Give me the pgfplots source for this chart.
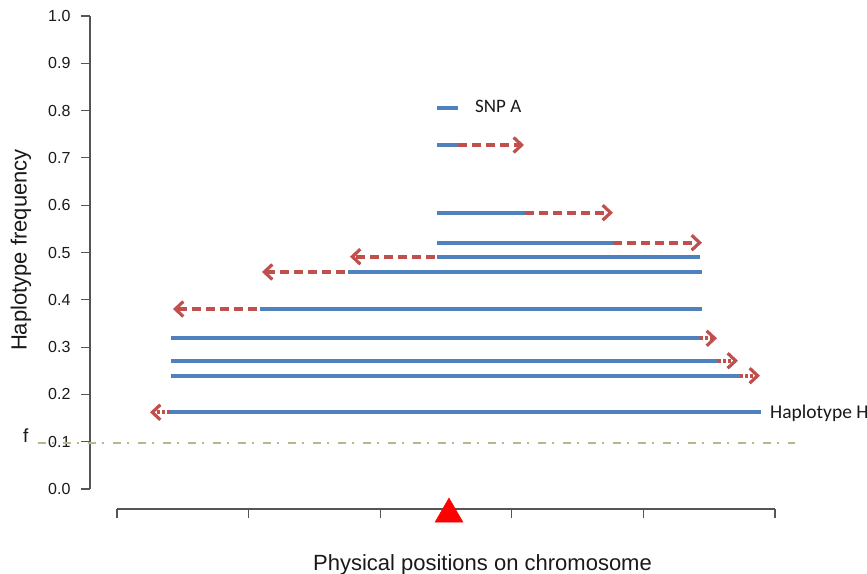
\documentclass[border=0pt]{standalone}
\usepackage{fontspec}
\setmainfont{Liberation Sans}
\newfontfamily\calibri{Carlito}
\usepackage{pgfplots}
\pgfplotsset{compat=1.18}
\usetikzlibrary{arrows.meta}
\definecolor{hblue}{RGB}{79,129,189}
\definecolor{hred}{RGB}{192,80,77}
\definecolor{fline}{RGB}{188,182,138}
\definecolor{axgray}{RGB}{85,85,85}
\definecolor{txt}{RGB}{25,25,25}
\begin{document}
\begin{tikzpicture}
\useasboundingbox (-90pt,-84pt) rectangle (777pt,489pt);
% x axis (positions on chromosome)
\begin{axis}[
  at={(27pt,-20pt)}, anchor=south west,
  scale only axis, width=658pt, height=2pt,
  xmin=0, xmax=5, ymin=0, ymax=1,
  axis x line*=bottom, axis y line=none,
  x axis line style={axgray, line width=1.2pt},
  xtick={0,1,2,3,4,5}, xticklabels={},
  tick align=outside, major tick length=9pt,
  tick style={axgray, line width=1.2pt},
]
\end{axis}
\begin{axis}[
  at={(0pt,0pt)}, anchor=south west,
  scale only axis, width=684.98pt, height=473pt,
  xmin=-0.205, xmax=5, ymin=0, ymax=1,
  clip=false,
  axis x line=none, axis y line*=left,
  y axis line style={axgray, line width=1.2pt},
  ytick={0,0.1,0.2,0.3,0.4,0.5,0.6,0.7,0.8,0.9,1.0},
  ticklabel style={font=\fontsize{16pt}{19pt}\selectfont, text=txt},
  yticklabel style={xshift=-7pt, /pgf/number format/.cd, fixed, fixed zerofill, precision=1, assume math mode=true},
  tick align=outside, major tick length=9pt,
  tick style={axgray, line width=1.2pt},
]
% threshold f
\addplot[fline, line width=2.8pt, dash pattern=on 8pt off 6pt on 2.5pt off 8.5pt] coordinates {(-0.6003,0.0973) (5.152,0.0973)};
% SNP A legend
\addplot[hblue, line width=4pt] coordinates {(2.4316,0.8055) (2.5912,0.8055)};
% haplotypes: blue cores
\addplot[hblue, line width=4pt] coordinates {(2.4316,0.7273) (2.5912,0.7273)};
\addplot[hblue, line width=4pt] coordinates {(2.4316,0.5841) (3.1003,0.5841)};
\addplot[hblue, line width=4pt] coordinates {(2.4316,0.5207) (3.7690,0.5207)};
\addplot[hblue, line width=4pt] coordinates {(2.4316,0.4911) (4.4301,0.4911)};
\addplot[hblue, line width=4pt] coordinates {(1.7553,0.4588) (4.4453,0.4588)};
\addplot[hblue, line width=4pt] coordinates {(1.0866,0.3805) (4.4453,0.3805)};
\addplot[hblue, line width=4pt] coordinates {(0.4103,0.3186) (4.4301,0.3186)};
\addplot[hblue, line width=4pt] coordinates {(0.4103,0.2712) (4.5669,0.2712)};
\addplot[hblue, line width=4pt] coordinates {(0.4103,0.2395) (4.7340,0.2395)};
\addplot[hblue, line width=4pt] coordinates {(0.4027,0.1622) (4.8936,0.1622)};
% red dashed extensions
\tikzset{ext/.style={hred, line width=3.8pt, dash pattern=on 9pt off 5pt, -{Straight Barb[length=8pt,width=15pt,line width=3.2pt]}}}
\addplot[ext] coordinates {(2.5912,0.7273) (3.0927,0.7273)};
\addplot[ext] coordinates {(3.1003,0.5841) (3.7690,0.5841)};
\addplot[ext] coordinates {(3.7690,0.5207) (4.4453,0.5207)};
\addplot[ext] coordinates {(2.4164,0.4911) (1.7705,0.4911)};
\addplot[ext] coordinates {(1.7325,0.4588) (1.1018,0.4588)};
\addplot[ext] coordinates {(1.0638,0.3805) (0.4255,0.3805)};
\addplot[ext, dash pattern=on 3pt off 2pt] coordinates {(4.4301,0.3186) (4.5593,0.3186)};
\addplot[ext, dash pattern=on 3pt off 2pt] coordinates {(4.5669,0.2712) (4.7188,0.2712)};
\addplot[ext, dash pattern=on 3pt off 2pt] coordinates {(4.7340,0.2395) (4.8860,0.2395)};
\addplot[ext, dash pattern=on 3pt off 2pt] coordinates {(0.4027,0.1622) (0.2508,0.1622)};
% SNP position
\addplot[only marks, mark=triangle*, mark size=16pt, mark options={fill=red, draw=red, line width=0.5pt}] coordinates {(2.5228,-0.0529)};
\node[anchor=base west, inner sep=0pt, font=\calibri\fontsize{19pt}{22pt}\selectfont, text=txt] at (axis cs:2.720,0.795) {SNP A};
\node[anchor=base west, inner sep=0pt, font=\calibri\fontsize{19.5pt}{22pt}\selectfont, text=txt] at (axis cs:4.962,0.150) {Haplotype H};
\node[anchor=base west, inner sep=0pt, font=\fontsize{19pt}{22pt}\selectfont, text=txt] at (axis cs:-0.714,0.0973) {f};
\end{axis}
\node[rotate=90, inner sep=0pt, font=\fontsize{22pt}{26pt}\selectfont, text=txt] at (-69pt,239pt) {Haplotype frequency};
\node[anchor=base, inner sep=0pt, font=\fontsize{22pt}{26pt}\selectfont, text=txt] at (392.5pt,-81pt) {Physical positions on chromosome};
\end{tikzpicture}
\end{document}
